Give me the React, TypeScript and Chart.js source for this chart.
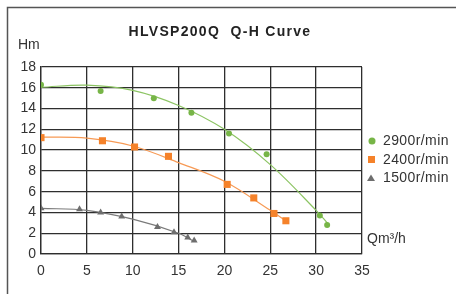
import React, { useEffect, useRef } from "react";
import { Chart, registerables } from "chart.js";

Chart.register(...registerables);

// Measured points
const q2900 = [0, 6.5, 12.3, 16.4, 20.5, 24.6, 30.4, 31.2];
const h2900 = [16.3, 15.7, 15.0, 13.6, 11.6, 9.6, 3.7, 2.8];
const q2400 = [0, 6.7, 10.2, 13.9, 20.3, 23.2, 25.4, 26.7];
const h2400 = [11.2, 10.9, 10.3, 9.4, 6.7, 5.4, 3.9, 3.2];
const q1500 = [0, 4.2, 6.5, 8.8, 12.7, 14.5, 16.0, 16.7];
const h1500 = [4.4, 4.3, 4.0, 3.6, 2.6, 2.1, 1.6, 1.3];

// Trend curves
const cq2900 = [0, 5, 10, 15, 20, 25, 30, 31.3];
const ch2900 = [16.05, 16.25, 15.75, 14.3, 12.0, 8.6, 4.2, 2.9];
const cq2400 = [0, 5, 10, 15, 20, 25, 26.7];
const ch2400 = [11.25, 11.15, 10.4, 8.8, 7.0, 4.2, 3.2];
const cq1500 = [0, 5, 10, 15, 16.7];
const ch1500 = [4.4, 4.2, 3.35, 2.0, 1.2];

const legendLabels = ["2900r/min", "2400r/min", "1500r/min"];
const title = "HLVSP200Q  Q-H Curve";
const yTitle = "Hm";
const xTitle = "Qm³/h";

const GREEN = "#77b547";
const ORANGE = "#f5822a";
const GRAY = "#6e6e6e";
const FONT = "'Liberation Sans', Arial, sans-serif";

const pts = (xs: number[], ys: number[]) => xs.map((x, i) => ({ x, y: ys[i] }));

export default function App() {
  const ref = useRef<HTMLCanvasElement>(null);
  useEffect(() => {
    const overlay = {
      id: "overlay",
      afterDraw(chart: any) {
        const ctx = chart.ctx as CanvasRenderingContext2D;
        ctx.save();
        // frame
        ctx.strokeStyle = "#555";
        ctx.lineWidth = 1.5;
        ctx.beginPath();
        ctx.moveTo(7.5, 294);
        ctx.lineTo(7.5, 7.5);
        ctx.lineTo(456, 7.5);
        ctx.stroke();
        // title
        ctx.fillStyle = "#222";
        ctx.font = `bold 14px ${FONT}`;
        (ctx as any).letterSpacing = "1.3px";
        ctx.textAlign = "center";
        ctx.textBaseline = "middle";
        ctx.fillText(title, 220, 32);
        (ctx as any).letterSpacing = "0px";
        ctx.font = `14px ${FONT}`;
        ctx.fillStyle = "#333";
        ctx.textAlign = "left";
        ctx.fillText(yTitle, 18, 45);
        ctx.fillText(xTitle, 367, 239);
        // legend
        const colors = [GREEN, ORANGE, GRAY];
        const ys = [141, 159.5, 178];
        (ctx as any).letterSpacing = "0.4px";
        legendLabels.forEach((lab, i) => {
          const y = ys[i];
          ctx.fillStyle = colors[i];
          ctx.beginPath();
          if (i === 0) ctx.arc(372, y, 3.5, 0, Math.PI * 2);
          else if (i === 1) ctx.rect(368, y - 3.5, 7, 7);
          else {
            ctx.moveTo(371, y - 3.5);
            ctx.lineTo(375, y + 3);
            ctx.lineTo(367, y + 3);
            ctx.closePath();
          }
          ctx.fill();
          ctx.fillStyle = "#333";
          ctx.fillText(lab, 383, y + 0.5);
        });
        ctx.restore();
      },
    };
    const chart = new Chart(ref.current!, {
      type: "scatter",
      data: {
        datasets: [
          { data: pts(q2900, h2900), backgroundColor: GREEN, borderColor: GREEN, pointStyle: "circle", pointRadius: 3, borderWidth: 0 },
          { data: pts(q2400, h2400), backgroundColor: ORANGE, borderColor: ORANGE, pointStyle: "rect", pointRadius: 5, borderWidth: 0 },
          { data: pts(q1500, h1500), backgroundColor: GRAY, borderColor: GRAY, pointStyle: "triangle", pointRadius: 4, borderWidth: 0 },
          { data: pts(cq2900, ch2900), showLine: true, pointRadius: 0, borderColor: "#8cc463", borderWidth: 1.2, tension: 0.35 },
          { data: pts(cq2400, ch2400), showLine: true, pointRadius: 0, borderColor: "#f79a55", borderWidth: 1.2, tension: 0.35 },
          { data: pts(cq1500, ch1500), showLine: true, pointRadius: 0, borderColor: "#7a7a7a", borderWidth: 1.2, tension: 0.35 },
        ] as any,
      },
      options: {
        animation: false,
        responsive: false,
        layout: { padding: { top: 67, right: 94, left: 0, bottom: 0 } },
        plugins: { legend: { display: false }, tooltip: { enabled: false } },
        scales: {
          x: {
            type: "linear",
            min: 0,
            max: 35,
            ticks: { stepSize: 5, color: "#333", font: { size: 14, family: FONT }, padding: 9 },
            grid: { color: "#2e2e2e", lineWidth: 1.3, drawTicks: false },
            border: { color: "#2e2e2e", width: 1.3 },
            afterFit: (s: any) => { s.height = 40; },
          },
          y: {
            type: "linear",
            min: 0,
            max: 18,
            ticks: { stepSize: 2, color: "#333", font: { size: 14, family: FONT }, padding: 5 },
            grid: { color: "#2e2e2e", lineWidth: 1.3, drawTicks: false },
            border: { color: "#2e2e2e", width: 1.3 },
            afterFit: (s: any) => { s.width = 41; },
          },
        },
      },
      plugins: [overlay],
    } as any);
    return () => chart.destroy();
  }, []);
  return (
    <div style={{ position: "fixed", left: 0, top: 0, width: 456, height: 294, background: "#fff" }}>
      <canvas ref={ref} width={456} height={294} />
    </div>
  );
}
